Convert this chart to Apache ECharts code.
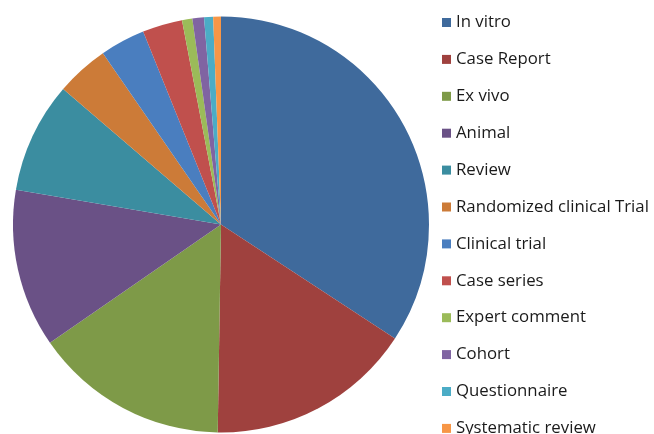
<!DOCTYPE html>
<html>
<head>
<meta charset="utf-8">
<script src="https://cdn.jsdelivr.net/npm/echarts@6/dist/echarts.min.js"></script>
<style>
  html, body { margin: 0; padding: 0; background: #fff; }
  #chart { width: 654px; height: 434px; }
</style>
</head>
<body>
<div id="chart"></div>
<script>
  // study types, share of papers (%)
  const categories = ['In vitro', 'Case Report', 'Ex vivo', 'Animal', 'Review',
    'Randomized clinical Trial', 'Clinical trial', 'Case series', 'Expert comment',
    'Cohort', 'Questionnaire', 'Systematic review']
  const values = [34.2, 16.0, 15.1, 12.3, 8.6, 4.1, 3.5, 3.1, 0.8, 0.9, 0.7, 0.6]
  const colors = ['#3f6a9c', '#9f413e', '#7e9a48', '#6a5186', '#3b8da0', '#cc7b38',
    '#4a7ebf', '#c0504d', '#9bbb59', '#8064a2', '#4bacc6', '#f79646']

  const chart = echarts.init(document.getElementById('chart'))
  chart.setOption({
    animation: false,
    color: colors,
    legend: {
      orient: 'vertical',
      left: 442,
      top: 14,
      height: 600,
      padding: 0,
      icon: 'rect',
      itemWidth: 9,
      itemHeight: 9,
      itemGap: 19.9,
      textStyle: {
        fontFamily: 'Open Sans',
        fontSize: 16.8,
        color: '#1a1a1a'
      },
      data: categories
    },
    series: [{
      type: 'pie',
      center: [221, 224.5],
      radius: 208,
      startAngle: 90,
      clockwise: true,
      label: { show: false },
      labelLine: { show: false },
      emphasis: { disabled: true },
      itemStyle: { borderWidth: 0 },
      data: categories.map((c, i) => ({ name: c, value: values[i] }))
    }]
  })
</script>
</body>
</html>
